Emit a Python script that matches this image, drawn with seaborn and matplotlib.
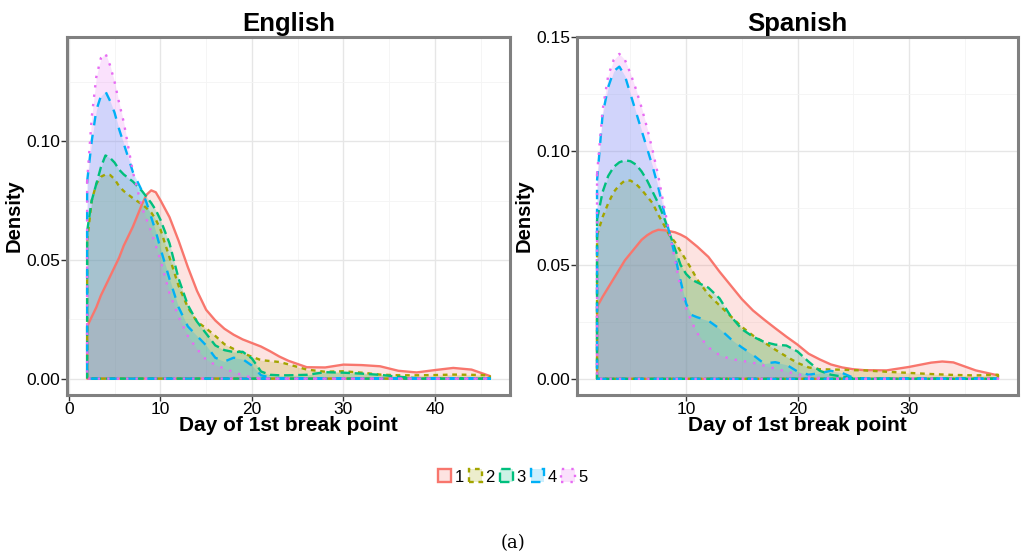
import numpy as np
import pandas as pd
import matplotlib
matplotlib.use("Agg")
import matplotlib.pyplot as plt
from matplotlib.patches import Patch
from matplotlib.ticker import MultipleLocator
import seaborn as sns

# Dichtekurven
groups = ["1", "2", "3", "4", "5"]
colors = ["#F8766D", "#A3A500", "#00BF7D", "#00B0F6", "#E76BF3"]

en_days = [2, 2.5, 3, 3.5, 4, 4.5, 5, 5.5, 6, 7, 8, 8.5, 9, 9.5, 10, 11, 12, 13, 14, 15, 16,
           17, 18, 19, 20, 21, 22, 23, 24, 26, 28, 30, 32, 34, 36, 38, 40, 42, 44, 46]
en_g1 = [0.022, 0.026, 0.030, 0.035, 0.039, 0.043, 0.047, 0.051, 0.056, 0.064, 0.0735, 0.0775,
         0.0793, 0.0785, 0.0752, 0.068, 0.058, 0.047, 0.037, 0.029, 0.0245, 0.021, 0.0185, 0.0165,
         0.015, 0.0135, 0.0115, 0.0093, 0.0075, 0.0048, 0.0047, 0.0059, 0.0057, 0.0052, 0.0033,
         0.0026, 0.0036, 0.0045, 0.0038, 0.0011]
en_g2 = [0.058, 0.075, 0.082, 0.085, 0.086, 0.0858, 0.084, 0.081, 0.079, 0.076, 0.0734, 0.0718,
         0.070, 0.067, 0.063, 0.051, 0.039, 0.030, 0.024, 0.0212, 0.018, 0.0145, 0.0125, 0.0108,
         0.0092, 0.0078, 0.0074, 0.007, 0.006, 0.0038, 0.0029, 0.0031, 0.0025, 0.0017, 0.0014,
         0.0014, 0.0015, 0.0017, 0.0016, 0.0014]
en_g3 = [0.062, 0.075, 0.082, 0.089, 0.094, 0.093, 0.091, 0.088, 0.086, 0.083, 0.079, 0.0765,
         0.074, 0.071, 0.067, 0.057, 0.042, 0.031, 0.024, 0.019, 0.014, 0.012, 0.0112, 0.0113,
         0.0085, 0.003, 0.0016, 0.0014, 0.0014, 0.0016, 0.0027, 0.0025, 0.0021, 0.0016, 0.0008,
         0.0002, 0.0, 0.0, 0.0, 0.0]
en_g4 = [0.083, 0.100, 0.113, 0.119, 0.121, 0.117, 0.112, 0.105, 0.099, 0.087, 0.079, 0.074,
         0.068, 0.062, 0.055, 0.042, 0.030, 0.022, 0.018, 0.014, 0.0088, 0.0072, 0.0088, 0.0082,
         0.0055, 0.0014, 0.0005, 0.0, 0.0, 0.0, 0.0, 0.0, 0.0, 0.0, 0.0, 0.0, 0.0, 0.0, 0.0, 0.0]
en_g5 = [0.083, 0.110, 0.127, 0.135, 0.137, 0.132, 0.125, 0.116, 0.108, 0.087, 0.072, 0.067,
         0.062, 0.056, 0.050, 0.036, 0.026, 0.018, 0.0125, 0.008, 0.0058, 0.0042, 0.0028, 0.0014,
         0.0005, 0.0, 0.0, 0.0, 0.0, 0.0, 0.0, 0.0, 0.0, 0.0, 0.0, 0.0, 0.0, 0.0, 0.0, 0.0]

es_days = [2, 2.5, 3, 3.5, 4, 4.5, 5, 5.5, 6, 6.5, 7, 7.5, 8, 8.5, 9, 9.5, 10, 10.5, 11, 12,
           13, 14, 15, 16, 17, 18, 19, 20, 21, 22, 23, 24, 25, 26, 28, 30, 32, 33, 34, 36, 38]
es_g1 = [0.0316, 0.036, 0.040, 0.044, 0.048, 0.052, 0.055, 0.058, 0.061, 0.063, 0.0645, 0.0654,
         0.0652, 0.0648, 0.0643, 0.0633, 0.062, 0.060, 0.058, 0.0535, 0.047, 0.041, 0.035, 0.030,
         0.026, 0.0222, 0.0185, 0.015, 0.011, 0.0085, 0.0063, 0.005, 0.0042, 0.0038, 0.0037,
         0.0052, 0.0071, 0.0076, 0.0072, 0.0037, 0.0015]
es_g2 = [0.063, 0.071, 0.077, 0.082, 0.085, 0.087, 0.087, 0.0855, 0.083, 0.080, 0.077, 0.072,
         0.0676, 0.063, 0.060, 0.056, 0.052, 0.048, 0.0435, 0.037, 0.0322, 0.0275, 0.0228, 0.019,
         0.016, 0.0128, 0.0098, 0.007, 0.005, 0.0042, 0.0041, 0.004, 0.0038, 0.0037, 0.0031,
         0.0026, 0.0021, 0.0019, 0.0017, 0.0015, 0.0018]
es_g3 = [0.070, 0.082, 0.089, 0.093, 0.095, 0.0959, 0.0955, 0.094, 0.091, 0.087, 0.082, 0.077,
         0.071, 0.064, 0.057, 0.050, 0.046, 0.0435, 0.0423, 0.040, 0.0353, 0.0275, 0.0218, 0.0185,
         0.0162, 0.015, 0.0146, 0.012, 0.0075, 0.0035, 0.0018, 0.001, 0.0003, 0.0, 0.0, 0.0, 0.0,
         0.0, 0.0, 0.0, 0.0]
es_g4 = [0.087, 0.116, 0.128, 0.135, 0.137, 0.133, 0.125, 0.117, 0.109, 0.101, 0.093, 0.084,
         0.0735, 0.064, 0.054, 0.043, 0.033, 0.028, 0.027, 0.0255, 0.022, 0.0175, 0.0138, 0.0105,
         0.0067, 0.0073, 0.0062, 0.0032, 0.0018, 0.0025, 0.0035, 0.0026, 0.0005, 0.0, 0.0, 0.0,
         0.0, 0.0, 0.0, 0.0, 0.0]
es_g5 = [0.090, 0.118, 0.133, 0.140, 0.1426, 0.140, 0.134, 0.127, 0.119, 0.110, 0.100, 0.089,
         0.076, 0.064, 0.052, 0.040, 0.031, 0.025, 0.020, 0.0138, 0.0104, 0.0087, 0.0079, 0.0071,
         0.0058, 0.0045, 0.0032, 0.002, 0.001, 0.0004, 0.0, 0.0, 0.0, 0.0, 0.0, 0.0, 0.0, 0.0,
         0.0, 0.0, 0.0]

# ggplot-Linientypen: solid, 22, 42, 44, 13
dash_map = {"1": "", "2": (2, 2), "3": (4, 2), "4": (4, 4), "5": (1, 3)}
mpl_ls = {"1": "-", "2": (0, (2, 2)), "3": (0, (4, 2)), "4": (0, (4, 4)), "5": (0, (1, 3))}

sns.set_theme(style="white")
plt.rcParams["font.family"] = ["Liberation Sans", "DejaVu Sans"]
plt.rcParams["text.color"] = "black"
plt.rcParams["axes.labelcolor"] = "black"


def outline_frame(days, series):
    # geschlossener Umriss wie bei geom_density (mit Grundlinie)
    rows = []
    for g, vals in zip(groups, series):
        xs = list(days) + [days[-1], days[0], days[0]]
        ys = list(vals) + [0.0, 0.0, vals[0]]
        for k, (x, y) in enumerate(zip(xs, ys)):
            rows.append({"day": x, "density": y, "group": g, "order": k})
    return pd.DataFrame(rows)


def draw_panel(ax, title, days, series, xlim, ylim, xticks, yticks):
    for g, vals, c in zip(groups, series, colors):
        ax.fill_between(days, 0, vals, color=c, alpha=0.2, lw=0, zorder=2)
    df = outline_frame(days, series)
    sns.lineplot(data=df, x="day", y="density", hue="group", style="group",
                 palette=colors, dashes=dash_map, sort=False, estimator=None,
                 linewidth=1.7, legend=False, ax=ax, zorder=3)
    ax.set_xlim(*xlim)
    ax.set_ylim(*ylim)
    ax.set_xticks(xticks)
    ax.set_yticks(yticks)
    ax.set_yticklabels([f"{v:.2f}" for v in yticks])
    ax.xaxis.set_minor_locator(MultipleLocator(5))
    ax.yaxis.set_minor_locator(MultipleLocator(0.025))
    ax.grid(which="major", color="#E6E6E6", lw=1.0, zorder=0)
    ax.grid(which="minor", color="#F4F4F4", lw=0.6, zorder=0)
    ax.set_axisbelow(True)
    for s in ax.spines.values():
        s.set_color("#808080")
        s.set_linewidth(2.2)
    ax.tick_params(which="major", direction="out", length=4, width=1, color="#333333",
                   labelsize=12.5, labelcolor="black", bottom=True, left=True, pad=1)
    ax.tick_params(which="minor", length=0)
    ax.set_title(title, fontsize=18.5, fontweight="bold", pad=4)
    ax.set_xlabel("Day of 1st break point", fontsize=15, fontweight="bold", labelpad=-1)
    ax.set_ylabel("Density", fontsize=14.5, fontweight="bold", labelpad=2)


fig = plt.figure(figsize=(10.25, 5.55), dpi=100)
ax1 = fig.add_axes([67 / 1025, 1 - 395 / 555, 443 / 1025, 358 / 555])
ax2 = fig.add_axes([577 / 1025, 1 - 395 / 555, 441 / 1025, 358 / 555])

draw_panel(ax1, "English", en_days, [en_g1, en_g2, en_g3, en_g4, en_g5],
           (-0.2, 48.2), (-0.0069, 0.1439), [0, 10, 20, 30, 40], [0.0, 0.05, 0.10])
draw_panel(ax2, "Spanish", es_days, [es_g1, es_g2, es_g3, es_g4, es_g5],
           (0.2, 39.8), (-0.0071, 0.150), [10, 20, 30], [0.0, 0.05, 0.10, 0.15])

handles = [Patch(facecolor=matplotlib.colors.to_rgba(c, 0.2), edgecolor=c,
                 linestyle=mpl_ls[g], linewidth=1.7, label=g)
           for g, c in zip(groups, colors)]
fig.legend(handles=handles, loc="center", bbox_to_anchor=(0.5, 1 - 477 / 555), ncol=5,
           frameon=False, fontsize=12, handlelength=0.8, handleheight=0.8,
           handletextpad=0.2, columnspacing=0.3, borderpad=0)

fig.text(0.5, 1 - 543 / 555, "(a)", ha="center", va="center", fontsize=13,
         family=["DejaVu Serif"])

fig.savefig("out.png", dpi=100)
